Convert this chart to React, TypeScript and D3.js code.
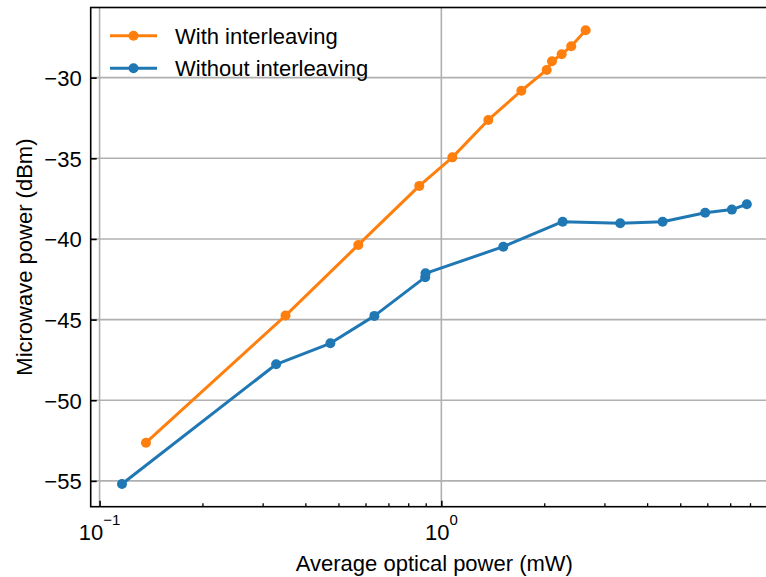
import React, { useEffect, useRef } from 'react';
import * as d3 from 'd3';

// optical power (mW) / microwave power (dBm)
const withX = [0.1367, 0.350, 0.5715, 0.862, 1.077, 1.372, 1.714, 2.033, 2.107, 2.249, 2.399, 2.644];
const withY = [-52.63, -44.75, -40.37, -36.71, -34.94, -32.62, -30.81, -29.52, -28.98, -28.55, -28.05, -27.06];
const withoutX = [0.1163, 0.3286, 0.4735, 0.637, 0.897, 0.899, 1.518, 2.264, 3.337, 4.44, 5.915, 7.08, 7.83];
const withoutY = [-55.19, -47.77, -46.47, -44.77, -42.37, -42.13, -40.48, -38.93, -39.03, -38.93, -38.37, -38.18, -37.85];

const yTicks = [-55, -50, -45, -40, -35, -30];
const xMajor = [0.1, 1];
const xMajorLabels = [['10', '\u22121'], ['10', '0']];
const xMinor = [0.2, 0.3, 0.4, 0.5, 0.6, 0.7, 0.8, 0.9, 2, 3, 4, 5, 6, 7, 8, 9];

const seriesNames = ['With interleaving', 'Without interleaving'];
const colors = ['#ff7f0e', '#1f77b4'];

const App = () => {
  const svgRef = useRef(null);

  useEffect(() => {
    const width = 766;
    const height = 577;
    const marginLeft = 90.7;
    const plotRight = 778;
    const marginTop = 7.5;
    const plotBottom = 506.7;
    const font = '"Liberation Sans", Arial, sans-serif';

    const x = d3.scaleLog()
      .domain([0.0942, 9.66])
      .range([marginLeft, plotRight]);

    const y = d3.scaleLinear()
      .domain([-56.6, -25.65])
      .range([plotBottom, marginTop]);

    const svg = d3.select(svgRef.current)
      .attr('width', width)
      .attr('height', height)
      .attr('viewBox', [0, 0, width, height])
      .style('font-family', font);

    svg.selectAll('*').remove();

    svg.append('rect')
      .attr('width', width)
      .attr('height', height)
      .attr('fill', 'white');

    // grid
    const grid = svg.append('g')
      .attr('stroke', '#b0b0b0')
      .attr('stroke-width', 1.6);
    grid.selectAll('line.gy')
      .data(yTicks)
      .enter()
      .append('line')
      .attr('x1', marginLeft)
      .attr('x2', plotRight)
      .attr('y1', d => y(d))
      .attr('y2', d => y(d));
    grid.selectAll('line.gx')
      .data(xMajor)
      .enter()
      .append('line')
      .attr('x1', d => x(d))
      .attr('x2', d => x(d))
      .attr('y1', marginTop)
      .attr('y2', plotBottom);

    // lines
    const series = [
      { xs: withX, ys: withY },
      { xs: withoutX, ys: withoutY },
    ];
    series.forEach((s, k) => {
      const pts = s.xs.map((v, i) => [v, s.ys[i]]);
      const line = d3.line()
        .x(d => x(d[0]))
        .y(d => y(d[1]));
      svg.append('path')
        .datum(pts)
        .attr('fill', 'none')
        .attr('stroke', colors[k])
        .attr('stroke-width', 3)
        .attr('stroke-linejoin', 'round')
        .attr('d', line);
      svg.append('g')
        .selectAll('circle')
        .data(pts)
        .enter()
        .append('circle')
        .attr('cx', d => x(d[0]))
        .attr('cy', d => y(d[1]))
        .attr('r', 5)
        .attr('fill', colors[k]);
    });

    // axes
    svg.append('g')
      .attr('transform', `translate(${marginLeft},0)`)
      .call(d3.axisLeft(y).tickValues(yTicks).tickSizeInner(-6).tickSizeOuter(0).tickPadding(9)
        .tickFormat(d => d3.format('d')(d).replace('-', '\u2212')))
      .call(g => g.select('.domain').remove())
      .call(g => g.selectAll('line').attr('stroke', 'black').attr('stroke-width', 1.6))
      .call(g => g.selectAll('text')
        .attr('font-size', 22)
        .attr('font-family', font)
        .attr('fill', 'black')
        .attr('dy', '0.36em'));

    svg.append('g')
      .attr('transform', `translate(0,${plotBottom})`)
      .call(d3.axisBottom(x).tickValues(xMinor).tickSizeInner(-3.5).tickSizeOuter(0).tickFormat(() => ''))
      .call(g => g.select('.domain').remove())
      .call(g => g.selectAll('line').attr('stroke', 'black').attr('stroke-width', 1.3));

    svg.append('g')
      .attr('transform', `translate(0,${plotBottom})`)
      .call(d3.axisBottom(x).tickValues(xMajor).tickSizeInner(-6).tickSizeOuter(0).tickFormat(() => ''))
      .call(g => g.select('.domain').remove())
      .call(g => g.selectAll('line').attr('stroke', 'black').attr('stroke-width', 1.6));

    const xl = svg.append('g');
    xMajor.forEach((v, i) => {
      const t = xl.append('text')
        .attr('x', x(v))
        .attr('y', 539.5)
        .attr('text-anchor', 'middle')
        .attr('font-size', 22)
        .attr('fill', 'black');
      t.append('tspan').text(xMajorLabels[i][0]);
      t.append('tspan')
        .attr('dy', -15)
        .attr('font-size', 15)
        .text(xMajorLabels[i][1]);
    });

    // frame
    svg.append('rect')
      .attr('x', marginLeft)
      .attr('y', marginTop)
      .attr('width', plotRight - marginLeft)
      .attr('height', plotBottom - marginTop)
      .attr('fill', 'none')
      .attr('stroke', 'black')
      .attr('stroke-width', 1.6);

    // axis labels
    svg.append('text')
      .attr('x', (marginLeft + plotRight) / 2)
      .attr('y', 571)
      .attr('text-anchor', 'middle')
      .attr('font-size', 22)
      .attr('fill', 'black')
      .text('Average optical power (mW)');

    svg.append('text')
      .attr('transform', `translate(32,${(marginTop + plotBottom) / 2}) rotate(-90)`)
      .attr('text-anchor', 'middle')
      .attr('font-size', 22)
      .attr('fill', 'black')
      .text('Microwave power (dBm)');

    // legend
    const legend = svg.append('g');
    seriesNames.forEach((name, i) => {
      const ly = 35.7 + i * 32.6;
      legend.append('line')
        .attr('x1', 110)
        .attr('x2', 157)
        .attr('y1', ly)
        .attr('y2', ly)
        .attr('stroke', colors[i])
        .attr('stroke-width', 3);
      legend.append('circle')
        .attr('cx', 133.5)
        .attr('cy', ly)
        .attr('r', 5)
        .attr('fill', colors[i]);
      legend.append('text')
        .attr('x', 175)
        .attr('y', ly)
        .attr('dy', '0.36em')
        .attr('font-size', 22)
        .attr('fill', 'black')
        .text(name);
    });
  }, []);

  return (
    <div style={{ position: 'fixed', left: 0, top: 0 }}>
      <svg ref={svgRef} style={{ display: 'block' }}></svg>
    </div>
  );
};

export default App;
